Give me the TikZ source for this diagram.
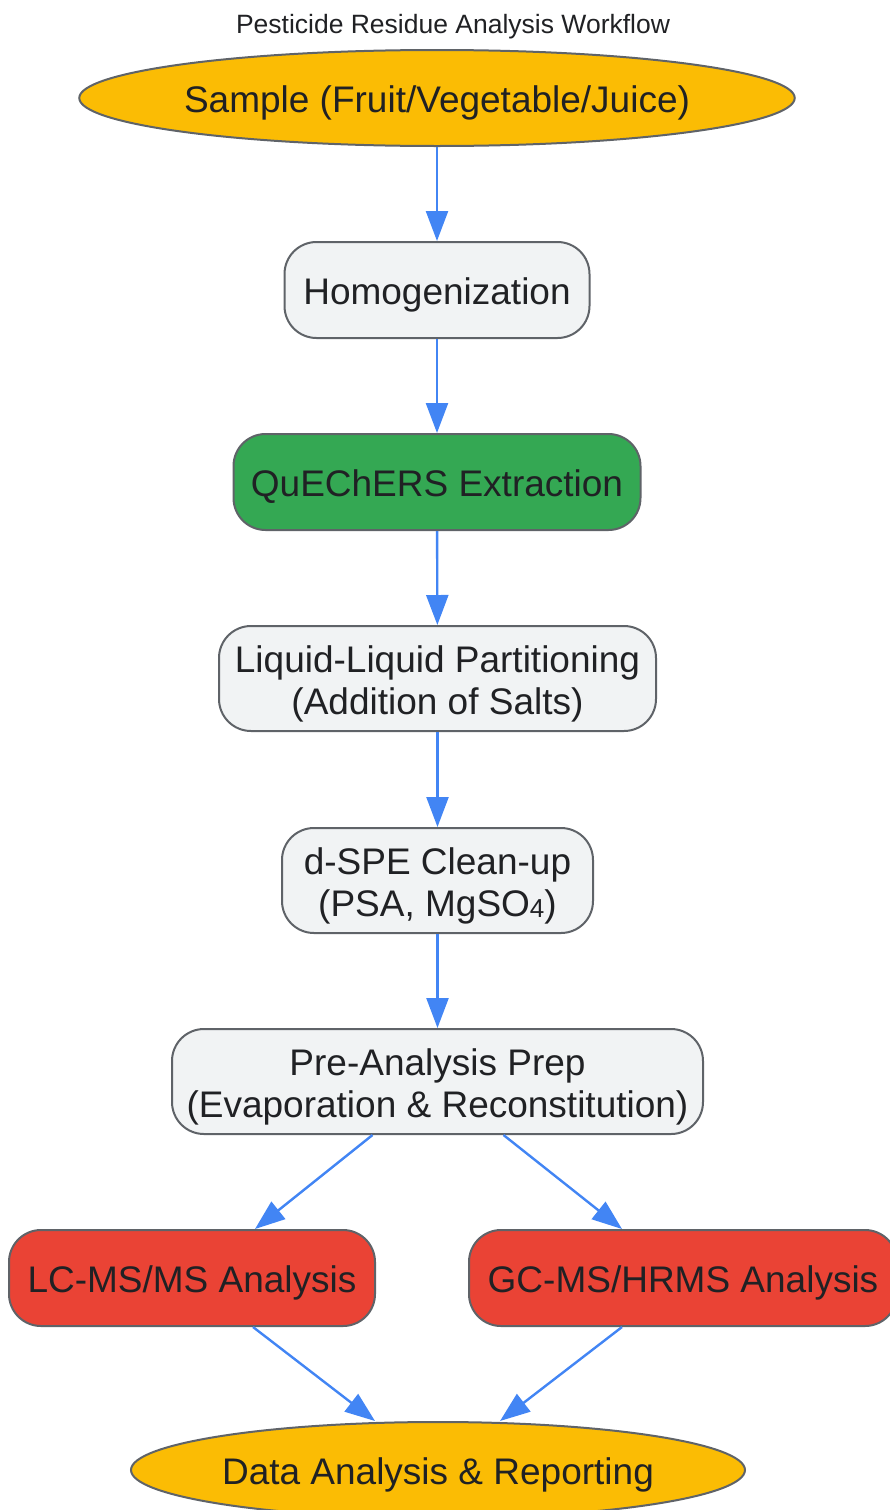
\documentclass[tikz,border=0pt]{standalone}
\usepackage{fontspec}
\setmainfont{Liberation Sans}
\usetikzlibrary{shapes.geometric,arrows.meta}
\definecolor{txt}{HTML}{202124}
\definecolor{edge}{HTML}{5F6368}
\definecolor{gbox}{HTML}{F1F3F4}
\definecolor{ylw}{HTML}{FBBC04}
\definecolor{grn}{HTML}{34A853}
\definecolor{rd}{HTML}{EA4335}
\definecolor{blu}{HTML}{4285F4}
\newcommand{\bt}{\rule{0pt}{37pt}}
\newcommand{\et}{\rule[-7.8pt]{0pt}{0pt}}
\tikzset{
  base/.style={draw=edge, line width=2pt, text=txt, inner sep=0pt, align=center,
    font=\fontsize{37}{42}\selectfont},
  rbox/.style={base, rectangle, rounded corners=32pt},
  oval/.style={base, ellipse},
  conn/.style={draw=blu, line width=2.4pt, -{Triangle[length=30pt,width=22pt]}},
}
\begin{document}
\begin{tikzpicture}[x=1pt,y=1pt]
\useasboundingbox (0,0) rectangle (889,-1510);
\node[text=txt, font=\fontsize{26.5}{30}\selectfont] (title) at (453,-27) {Pesticide Residue Analysis Workflow};
\node[oval, fill=ylw, minimum width=715pt, minimum height=96pt] (sample) at (437,-98) {\bt Sample (Fruit/Vegetable/Juice)\et};
\node[rbox, fill=gbox, minimum width=305pt, minimum height=96pt] (homo) at (437,-290) {\bt Homogenization\et};
\node[rbox, fill=grn, minimum width=407pt, minimum height=96pt] (quech) at (437,-482) {\bt QuEChERS Extraction\et};
\node[rbox, fill=gbox, minimum width=437pt, minimum height=105pt] (llp) at (437.5,-678.5) {\bt Liquid-Liquid Partitioning\\(Addition of Salts)\et};
\node[rbox, fill=gbox, minimum width=311pt, minimum height=105pt] (dspe) at (437.5,-880.5) {\bt d-SPE Clean-up\\(PSA, MgSO\fontsize{26}{30}\selectfont\raisebox{-1pt}{4}\fontsize{37}{42}\selectfont)\et};
\node[rbox, fill=gbox, minimum width=531pt, minimum height=105pt] (pre) at (437.5,-1081.5) {\bt Pre-Analysis Prep\\(Evaporation \& Reconstitution)\et};
\node[rbox, fill=rd, minimum width=366pt, minimum height=96pt] (lc) at (192,-1278) {\bt LC-MS/MS Analysis\et};
\node[rbox, fill=rd, minimum width=428pt, minimum height=96pt] (gc) at (683,-1278) {\bt GC-MS/HRMS Analysis\et};
\node[oval, fill=ylw, minimum width=614pt, minimum height=96pt] (data) at (438,-1470) {\bt Data Analysis \& Reporting\et};
\draw[conn] (sample) -- (homo);
\draw[conn] (homo) -- (quech);
\draw[conn] (quech) -- (llp);
\draw[conn] (llp) -- (dspe);
\draw[conn] (dspe) -- (pre);
\draw[conn] ([xshift=-65pt]pre.south) -- ([xshift=63pt]lc.north);
\draw[conn] ([xshift=66pt]pre.south) -- ([xshift=-61pt]gc.north);
\draw[conn] ([xshift=61pt]lc.south) -- ([xshift=-63pt]data.north);
\draw[conn] ([xshift=-61pt]gc.south) -- ([xshift=62pt]data.north);
\end{tikzpicture}
\end{document}
